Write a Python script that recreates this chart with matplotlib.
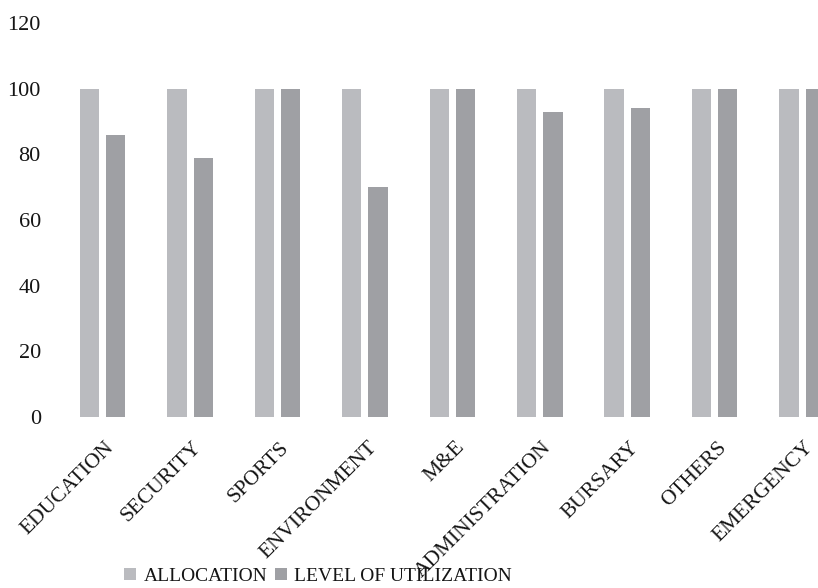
import numpy as np
import matplotlib
matplotlib.use('Agg')
import matplotlib.pyplot as plt
from matplotlib import transforms

# Бюджетные статьи и значения (в процентах)
CATEGORIES = ['EDUCATION', 'SECURITY', 'SPORTS', 'ENVIRONMENT', 'M&E',
              'ADMINISTRATION', 'BURSARY', 'OTHERS', 'EMERGENCY']
ALLOCATION = [100, 100, 100, 100, 100, 100, 100, 100, 100]
UTILIZATION = [86, 79, 100, 70, 100, 93, 94, 100, 100]
Y_TICKS = [0, 20, 40, 60, 80, 100, 120]

ALLOC_COLOR = '#babbbf'
UTIL_COLOR = '#9fa0a4'
TEXT_COLOR = '#151515'
FONT = ['Liberation Serif', 'DejaVu Serif']

plt.rcParams['font.family'] = FONT

fig = plt.figure(figsize=(8.18, 5.88), dpi=100)
# Ось шире фигуры: последняя группа столбцов обрезается справа
ax = fig.add_axes([0.072, 0.291, 0.962, 0.670])

x = np.arange(len(CATEGORIES))
w = 0.22
ax.bar(x - 0.15, ALLOCATION, width=w, color=ALLOC_COLOR, label='ALLOCATION')
ax.bar(x + 0.15, UTILIZATION, width=w, color=UTIL_COLOR, label='LEVEL OF UTILIZATION')

ax.set_xlim(-0.5, len(CATEGORIES) - 0.5)
ax.set_ylim(0, 120)
ax.set_yticks(Y_TICKS)
ax.set_yticklabels([str(v) for v in Y_TICKS], fontsize=16)
ax.set_xticks(x)
ax.set_xticklabels(CATEGORIES, fontsize=15.5, rotation=45,
                   ha='right', va='center', rotation_mode='anchor')

ax.tick_params(axis='y', length=0, pad=13, colors=TEXT_COLOR)
ax.tick_params(axis='x', length=0, pad=20, colors=TEXT_COLOR)
for s in ax.spines.values():
    s.set_visible(False)

# сдвиг подписей категорий немного вправо
shift = transforms.ScaledTranslation(9 / 100, 0, fig.dpi_scale_trans)
for lbl in ax.get_xticklabels():
    lbl.set_transform(lbl.get_transform() + shift)

fig.legend(loc='lower left', bbox_to_anchor=(0.135, -0.018), ncol=2,
           frameon=False, fontsize=14, handlelength=0.6, handleheight=0.6,
           handletextpad=0.4, columnspacing=0.4, borderpad=0.2,
           labelcolor=TEXT_COLOR)

fig.savefig('out.png', dpi=100)
